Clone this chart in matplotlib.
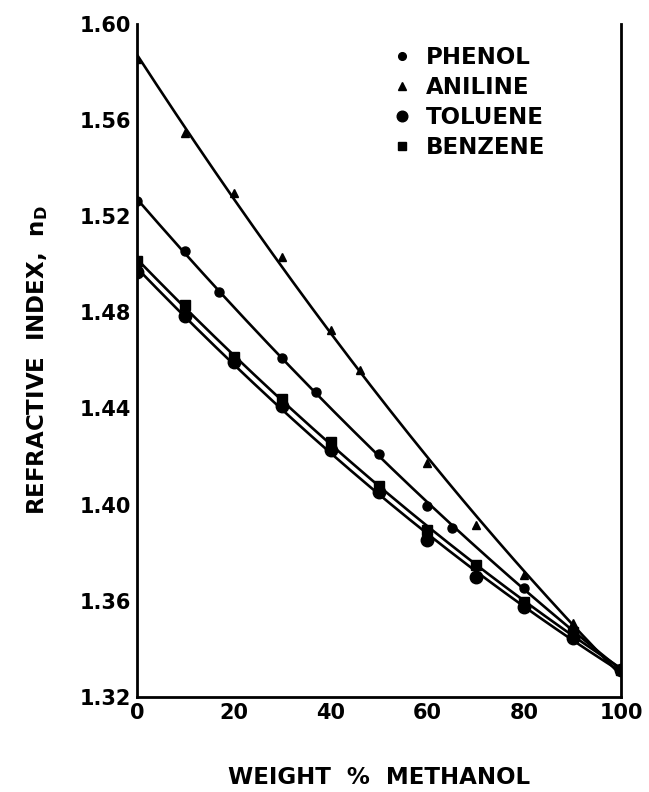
import numpy as np
import matplotlib
matplotlib.use("Agg")
import matplotlib.pyplot as plt
from matplotlib.lines import Line2D

# Data
phenol_x = [0, 10, 17, 30, 37, 50, 60, 65, 80, 90, 100]
phenol_y = [1.5263, 1.5055, 1.4883, 1.4609, 1.4468, 1.4212, 1.3996, 1.3904, 1.3655, 1.3480, 1.3312]

aniline_x = [0, 10, 20, 30, 40, 46, 60, 70, 80, 90, 100]
aniline_y = [1.5854, 1.5546, 1.5296, 1.5030, 1.4725, 1.4560, 1.4175, 1.3917, 1.3708, 1.3508, 1.3312]

toluene_x = [0, 10, 20, 30, 40, 50, 60, 70, 80, 90, 100]
toluene_y = [1.4967, 1.4783, 1.4593, 1.4409, 1.4229, 1.4051, 1.3854, 1.3697, 1.3576, 1.3446, 1.3312]

benzene_x = [0, 10, 20, 30, 40, 50, 60, 70, 80, 90, 100]
benzene_y = [1.5013, 1.4829, 1.4615, 1.4438, 1.4260, 1.4076, 1.3896, 1.3747, 1.3597, 1.3472, 1.3312]

x_ticks = [0, 20, 40, 60, 80, 100]
y_ticks = [1.32, 1.36, 1.40, 1.44, 1.48, 1.52, 1.56, 1.60]

series = [
    ("PHENOL", phenol_x, phenol_y, "o", 6.5),
    ("ANILINE", aniline_x, aniline_y, "^", 6.0),
    ("TOLUENE", toluene_x, toluene_y, "o", 9.0),
    ("BENZENE", benzene_x, benzene_y, "s", 7.5),
]

fig = plt.figure(figsize=(6.49, 7.92), dpi=100)
ax = fig.add_axes([0.211, 0.120, 0.746, 0.850])

for name, xs, ys, m, ms in series:
    xs = np.asarray(xs, float)
    ys = np.asarray(ys, float)
    coef = np.polyfit(xs, ys, 2)
    xx = np.linspace(xs.min(), xs.max(), 200)
    ax.plot(xx, np.polyval(coef, xx), color="black", lw=1.9, zorder=2)
    ax.plot(xs, ys, linestyle="none", marker=m, ms=ms, color="black", zorder=3)

ax.set_xlim(0, 100)
ax.set_ylim(1.32, 1.60)
ax.set_xticks(x_ticks)
ax.set_xticklabels([str(v) for v in x_ticks])
ax.set_yticks(y_ticks)
ax.set_yticklabels(["%.2f" % v for v in y_ticks])
ax.tick_params(length=0, labelsize=15, pad=4)
for lab in ax.get_xticklabels() + ax.get_yticklabels():
    lab.set_fontweight("bold")

ax.spines["top"].set_visible(False)
for s in ["left", "right", "bottom"]:
    ax.spines[s].set_linewidth(2.0)

ax.set_xlabel("WEIGHT  %  METHANOL", fontsize=16.5, fontweight="bold", labelpad=31)
ax.set_ylabel(r"REFRACTIVE  INDEX,  $\mathbf{n_D}$", fontsize=16.5, fontweight="bold")
ax.yaxis.set_label_coords(-0.18, 0.5)

handles = [Line2D([], [], linestyle="none", marker=m, ms=ms * 0.85, color="black")
           for _, _, _, m, ms in series]
labels = [s[0] for s in series]
leg = ax.legend(handles, labels, loc="upper left", bbox_to_anchor=(0.505, 0.98),
                frameon=False, prop={"weight": "bold", "size": 16.5},
                handletextpad=0.55, labelspacing=0.3, handlelength=1.0,
                borderaxespad=0)

fig.savefig("out.png", dpi=100)
